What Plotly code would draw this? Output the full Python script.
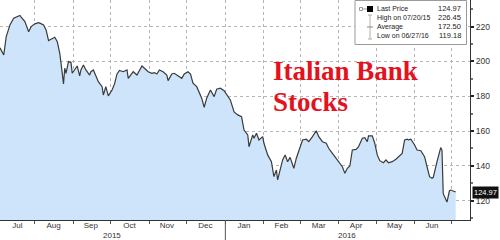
import plotly.graph_objects as go

dates = [
    "2015-07-04", "2015-07-07", "2015-07-09", "2015-07-12", "2015-07-15", "2015-07-20", "2015-07-21",
    "2015-07-24", "2015-07-27", "2015-07-29", "2015-08-01", "2015-08-04", "2015-08-05", "2015-08-08",
    "2015-08-10", "2015-08-12", "2015-08-14", "2015-08-17", "2015-08-19", "2015-08-21", "2015-08-22",
    "2015-08-24", "2015-08-25", "2015-08-26", "2015-08-28", "2015-08-30", "2015-08-31", "2015-09-02",
    "2015-09-04", "2015-09-06", "2015-09-07", "2015-09-09", "2015-09-11", "2015-09-14", "2015-09-15",
    "2015-09-17", "2015-09-19", "2015-09-21", "2015-09-24", "2015-09-25", "2015-09-27", "2015-09-29",
    "2015-10-02", "2015-10-04", "2015-10-06", "2015-10-08", "2015-10-11", "2015-10-14", "2015-10-15",
    "2015-10-19", "2015-10-22", "2015-10-24", "2015-10-26", "2015-10-28", "2015-10-31", "2015-11-03",
    "2015-11-05", "2015-11-07", "2015-11-09", "2015-11-12", "2015-11-15", "2015-11-16", "2015-11-19",
    "2015-11-21", "2015-11-24", "2015-11-27", "2015-11-29", "2015-12-02", "2015-12-04", "2015-12-06",
    "2015-12-09", "2015-12-11", "2015-12-13", "2015-12-15", "2015-12-17", "2015-12-20", "2015-12-23",
    "2015-12-25", "2015-12-28", "2015-12-31", "2016-01-03", "2016-01-05", "2016-01-08", "2016-01-11",
    "2016-01-14", "2016-01-16", "2016-01-19", "2016-01-20", "2016-01-23", "2016-01-24", "2016-01-26",
    "2016-01-28", "2016-01-31", "2016-02-01", "2016-02-04", "2016-02-07", "2016-02-09", "2016-02-11",
    "2016-02-12", "2016-02-15", "2016-02-16", "2016-02-18", "2016-02-20", "2016-02-22", "2016-02-25",
    "2016-02-27", "2016-02-29", "2016-03-03", "2016-03-06", "2016-03-08", "2016-03-11", "2016-03-14",
    "2016-03-16", "2016-03-19", "2016-03-22", "2016-03-24", "2016-03-27", "2016-03-30", "2016-04-01",
    "2016-04-04", "2016-04-06", "2016-04-08", "2016-04-10", "2016-04-12", "2016-04-15", "2016-04-17",
    "2016-04-20", "2016-04-22", "2016-04-24", "2016-04-25", "2016-04-28", "2016-04-30", "2016-05-02",
    "2016-05-04", "2016-05-07", "2016-05-09", "2016-05-11", "2016-05-14", "2016-05-17", "2016-05-20",
    "2016-05-22", "2016-05-24", "2016-05-26", "2016-05-27", "2016-05-29", "2016-06-01", "2016-06-03",
    "2016-06-06", "2016-06-09", "2016-06-11", "2016-06-13", "2016-06-15", "2016-06-16", "2016-06-19",
    "2016-06-20", "2016-06-21", "2016-06-22", "2016-06-23", "2016-06-24", "2016-06-27", "2016-06-28",
    "2016-06-29", "2016-06-30", "2016-07-01", "2016-07-04",
]
prices = [
    207.8, 203.7, 214.3, 221.0, 224.8, 226.45, 225.4,
    222.9, 217.1, 220.0, 221.6, 222.3, 222.0, 221.0,
    218.1, 212.0, 212.8, 213.9, 211.4, 204.7, 199.0,
    187.1, 196.1, 193.2, 199.9, 199.5, 193.2, 195.1,
    197.4, 191.7, 195.1, 198.0, 195.1, 192.2, 194.1,
    195.1, 191.3, 188.4, 185.5, 180.7, 185.5, 180.2,
    183.6, 187.1, 192.8, 194.8, 194.1, 195.1, 190.3,
    194.1, 192.2, 195.1, 197.4, 196.1, 194.1, 193.2,
    193.6, 192.8, 195.1, 194.1, 192.2, 189.0, 192.8,
    193.2, 191.7, 190.3, 192.8, 194.1, 192.8, 187.5,
    185.5, 181.7, 178.9, 173.7, 178.9, 183.6, 179.8,
    184.0, 184.6, 183.2, 179.8, 177.9, 171.0, 169.3,
    168.3, 160.6, 157.8, 151.0, 157.8, 155.9, 158.7,
    154.9, 156.8, 153.0, 146.3, 142.4, 133.8, 137.6,
    131.9, 141.5, 143.4, 146.3, 142.4, 144.9, 138.6,
    144.4, 149.1, 154.9, 155.3, 153.9, 156.8, 160.2,
    156.8, 153.9, 153.0, 150.1, 147.2, 144.4, 142.4,
    139.5, 135.7, 138.6, 139.9, 149.1, 149.5, 151.0,
    155.9, 156.2, 153.9, 157.2, 157.2, 153.0, 146.3,
    143.0, 141.8, 143.4, 141.8, 142.4, 143.8, 145.7,
    147.2, 154.9, 155.3, 154.9, 155.3, 152.0, 149.1,
    148.7, 145.3, 139.5, 133.8, 132.9, 133.4, 142.4,
    145.3, 147.2, 150.5, 149.1, 124.0, 119.18, 123.3,
    125.7, 126.1, 125.9, 124.97,
]

month_starts = ["2015-08-01", "2015-09-01", "2015-10-01", "2015-11-01", "2015-12-01", "2016-01-01",
                "2016-02-01", "2016-03-01", "2016-04-01", "2016-05-01", "2016-06-01", "2016-07-01"]
month_mids = ["2015-07-18", "2015-08-16", "2015-09-15", "2015-10-16", "2015-11-15", "2015-12-16",
              "2016-01-16", "2016-02-15", "2016-03-16", "2016-04-15", "2016-05-16", "2016-06-15"]
month_labels = ["Jul", "Aug", "Sep", "Oct", "Nov", "Dec", "Jan", "Feb", "Mar", "Apr", "May", "Jun"]
year_labels = ["2015", "2016"]
year_pos = ["2015-10-02", "2016-04-08"]
y_ticks = [120, 140, 160, 180, 200, 220]
y_minor = [110, 130, 150, 170, 190, 210, 230]
legend_labels = ["Last Price", "High on 07/20/15", "Average", "Low on 06/27/16"]
legend_values = ["124.97", "226.45", "172.50", "119.18"]
last_price = 124.97
title_lines = ["Italian Bank", "Stocks"]

W, H = 500, 240
PW, PH = 470, 220  # plot area in pixels


def px(x):
    return x / PW


def py(y):
    return 1 - y / PH


SANS = "Liberation Sans, Arial, sans-serif"
TXT = "#333333"

fig = go.Figure()
fig.add_trace(go.Scatter(
    x=dates, y=prices, mode="lines",
    line=dict(color="#3a3a3a", width=1.2),
    fill="tozeroy", fillcolor="#cde4fa",
    hoverinfo="skip", showlegend=False,
))

annotations = []
shapes = []

# Title
for line_txt, cy in zip(title_lines, (71, 102)):
    annotations.append(dict(xref="paper", yref="paper", x=px(271), y=py(cy), xanchor="left", yanchor="middle",
                            text="<b>%s</b>" % line_txt, showarrow=False,
                            font=dict(family="Liberation Serif, Times New Roman, serif", size=27,
                                      color="#e3121c")))

# Year labels
for lab, pos in zip(year_labels, year_pos):
    annotations.append(dict(xref="x", yref="paper", x=pos, y=py(235.5), xanchor="center", yanchor="middle",
                            text=lab, showarrow=False, font=dict(family=SANS, size=8, color=TXT)))
shapes.append(dict(type="line", xref="x", yref="paper", x0="2016-01-01", x1="2016-01-01",
                   y0=py(220), y1=py(240), line=dict(color="#555555", width=1)))

# Legend box
shapes.append(dict(type="rect", xref="paper", yref="paper", x0=px(355), x1=px(466.5), y0=py(0.5), y1=py(44.5),
                   fillcolor="white", line=dict(color="#9a9a9a", width=1), layer="above"))
row_y = [9, 18, 27, 36]
for lab, val, ry in zip(legend_labels, legend_values, row_y):
    annotations.append(dict(xref="paper", yref="paper", x=px(374.5), y=py(ry), xanchor="left", yanchor="middle",
                            text=lab, showarrow=False, font=dict(family=SANS, size=7, color="#222222")))
    annotations.append(dict(xref="paper", yref="paper", x=px(463), y=py(ry), xanchor="right", yanchor="middle",
                            text=val, showarrow=False, font=dict(family=SANS, size=7.5, color="#222222")))
# legend icons
shapes.append(dict(type="rect", xref="paper", yref="paper", x0=px(359.5), x1=px(362.5), y0=py(7.5), y1=py(10.5),
                   line=dict(color="#999999", width=1), fillcolor="white", layer="above"))
shapes.append(dict(type="line", xref="paper", yref="paper", x0=px(362.5), x1=px(367), y0=py(9), y1=py(9),
                   line=dict(color="#999999", width=1), layer="above"))
shapes.append(dict(type="rect", xref="paper", yref="paper", x0=px(367), x1=px(373), y0=py(6), y1=py(12),
                   line=dict(color="black", width=0), fillcolor="black", layer="above"))
shapes.append(dict(type="line", xref="paper", yref="paper", x0=px(370), x1=px(370), y0=py(15), y1=py(39),
                   line=dict(color="#b0b0b0", width=1), layer="above"))
for yy in (15, 39):
    shapes.append(dict(type="line", xref="paper", yref="paper", x0=px(368), x1=px(372), y0=py(yy), y1=py(yy),
                       line=dict(color="#b0b0b0", width=1), layer="above"))
shapes.append(dict(type="line", xref="paper", yref="paper", x0=px(367), x1=px(373), y0=py(27), y1=py(27),
                   line=dict(color="#888888", width=1), layer="above"))

# Last price tag
annotations.append(dict(xref="paper", yref="y", x=px(472), y=last_price, xanchor="left", yanchor="middle",
                        text="%.2f" % last_price, showarrow=False, bgcolor="#111111", borderpad=1,
                        font=dict(family=SANS, size=7.5, color="white")))

fig.update_layout(
    width=W, height=H,
    margin=dict(l=0, r=W - PW, t=0, b=H - PH, pad=0),
    paper_bgcolor="white", plot_bgcolor="white",
    showlegend=False,
    annotations=annotations, shapes=shapes,
    xaxis=dict(
        type="date", range=["2015-07-04", "2016-07-15 12:00"],
        tickmode="array", tickvals=month_mids, ticktext=month_labels,
        ticks="", showgrid=False, zeroline=False,
        showline=True, linecolor="#333333", linewidth=1,
        tickfont=dict(family=SANS, size=8, color=TXT),
        ticklabelstandoff=-3,
        minor=dict(tickmode="array", tickvals=month_starts, showgrid=True, griddash="dot",
                   gridcolor="#b5b5b5", gridwidth=1, ticks="outside", ticklen=3, tickcolor="#555555"),
        fixedrange=True,
    ),
    yaxis=dict(
        side="right", range=[108.9, 235.3],
        tickmode="array", tickvals=y_ticks,
        showgrid=True, griddash="dot", gridcolor="#b5b5b5", gridwidth=1,
        ticks="outside", ticklen=3, tickwidth=2, tickcolor="#222222",
        showline=True, linecolor="#333333", linewidth=1,
        tickfont=dict(family=SANS, size=8.5, color=TXT),
        minor=dict(tickmode="array", tickvals=y_minor, ticks="outside", ticklen=2, tickcolor="#777777",
                   showgrid=False),
        zeroline=False, fixedrange=True,
    ),
)

fig.write_html("out.html")
